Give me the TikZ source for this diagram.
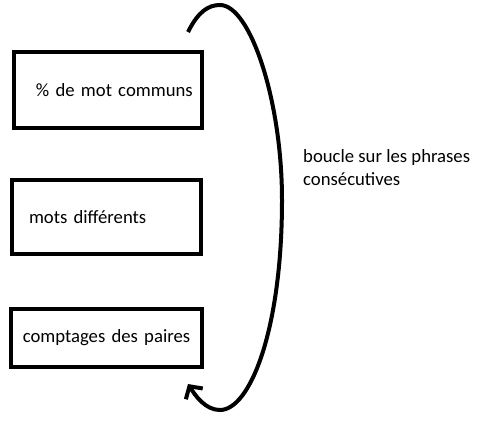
\documentclass[tikz,border=0pt]{standalone}
\usepackage{fontspec}
\setmainfont{Carlito}
\usetikzlibrary{arrows.meta}

\begin{document}
\begin{tikzpicture}[x=1pt, y=-1pt,
  box/.style={rectangle, draw=black, line width=4.5pt, inner xsep=5pt, inner ysep=0pt, font=\fontsize{18.7}{23}\selectfont},
  note/.style={inner sep=0pt, align=left, font=\fontsize{18.7}{23}\selectfont},
  loop/.style={line width=4pt, -{Straight Barb[length=9pt, width=20pt]}}
]
\useasboundingbox (0,0) rectangle (484,424);

\node[box, text width=178pt, align=left, minimum height=76pt] (common) at (108,90) {\hspace*{17pt}\% de mot communs};
\node[box, text width=179pt, align=left, minimum height=74pt] (diff) at (106.5,217) {\hspace*{12pt}mots différents};
\node[box, text width=181pt, align=center, minimum height=58pt] (pairs) at (106.5,338) {comptages des paires};

\node[note, anchor=north west] (loopnote) at (303,149) {boucle sur les phrases\\consécutives};

% boucle
\coordinate (loopstart) at (188,32);
\coordinate (loopend) at (188,384);
\draw[loop] (loopstart) .. controls (198,12) and (208,5) .. (220,5)
  .. controls (250,5) and (282,100) .. (282,200)
  .. controls (282,330) and (250,410) .. (220,410)
  .. controls (205,410) and (195,395) .. (loopend);
\end{tikzpicture}
\end{document}
